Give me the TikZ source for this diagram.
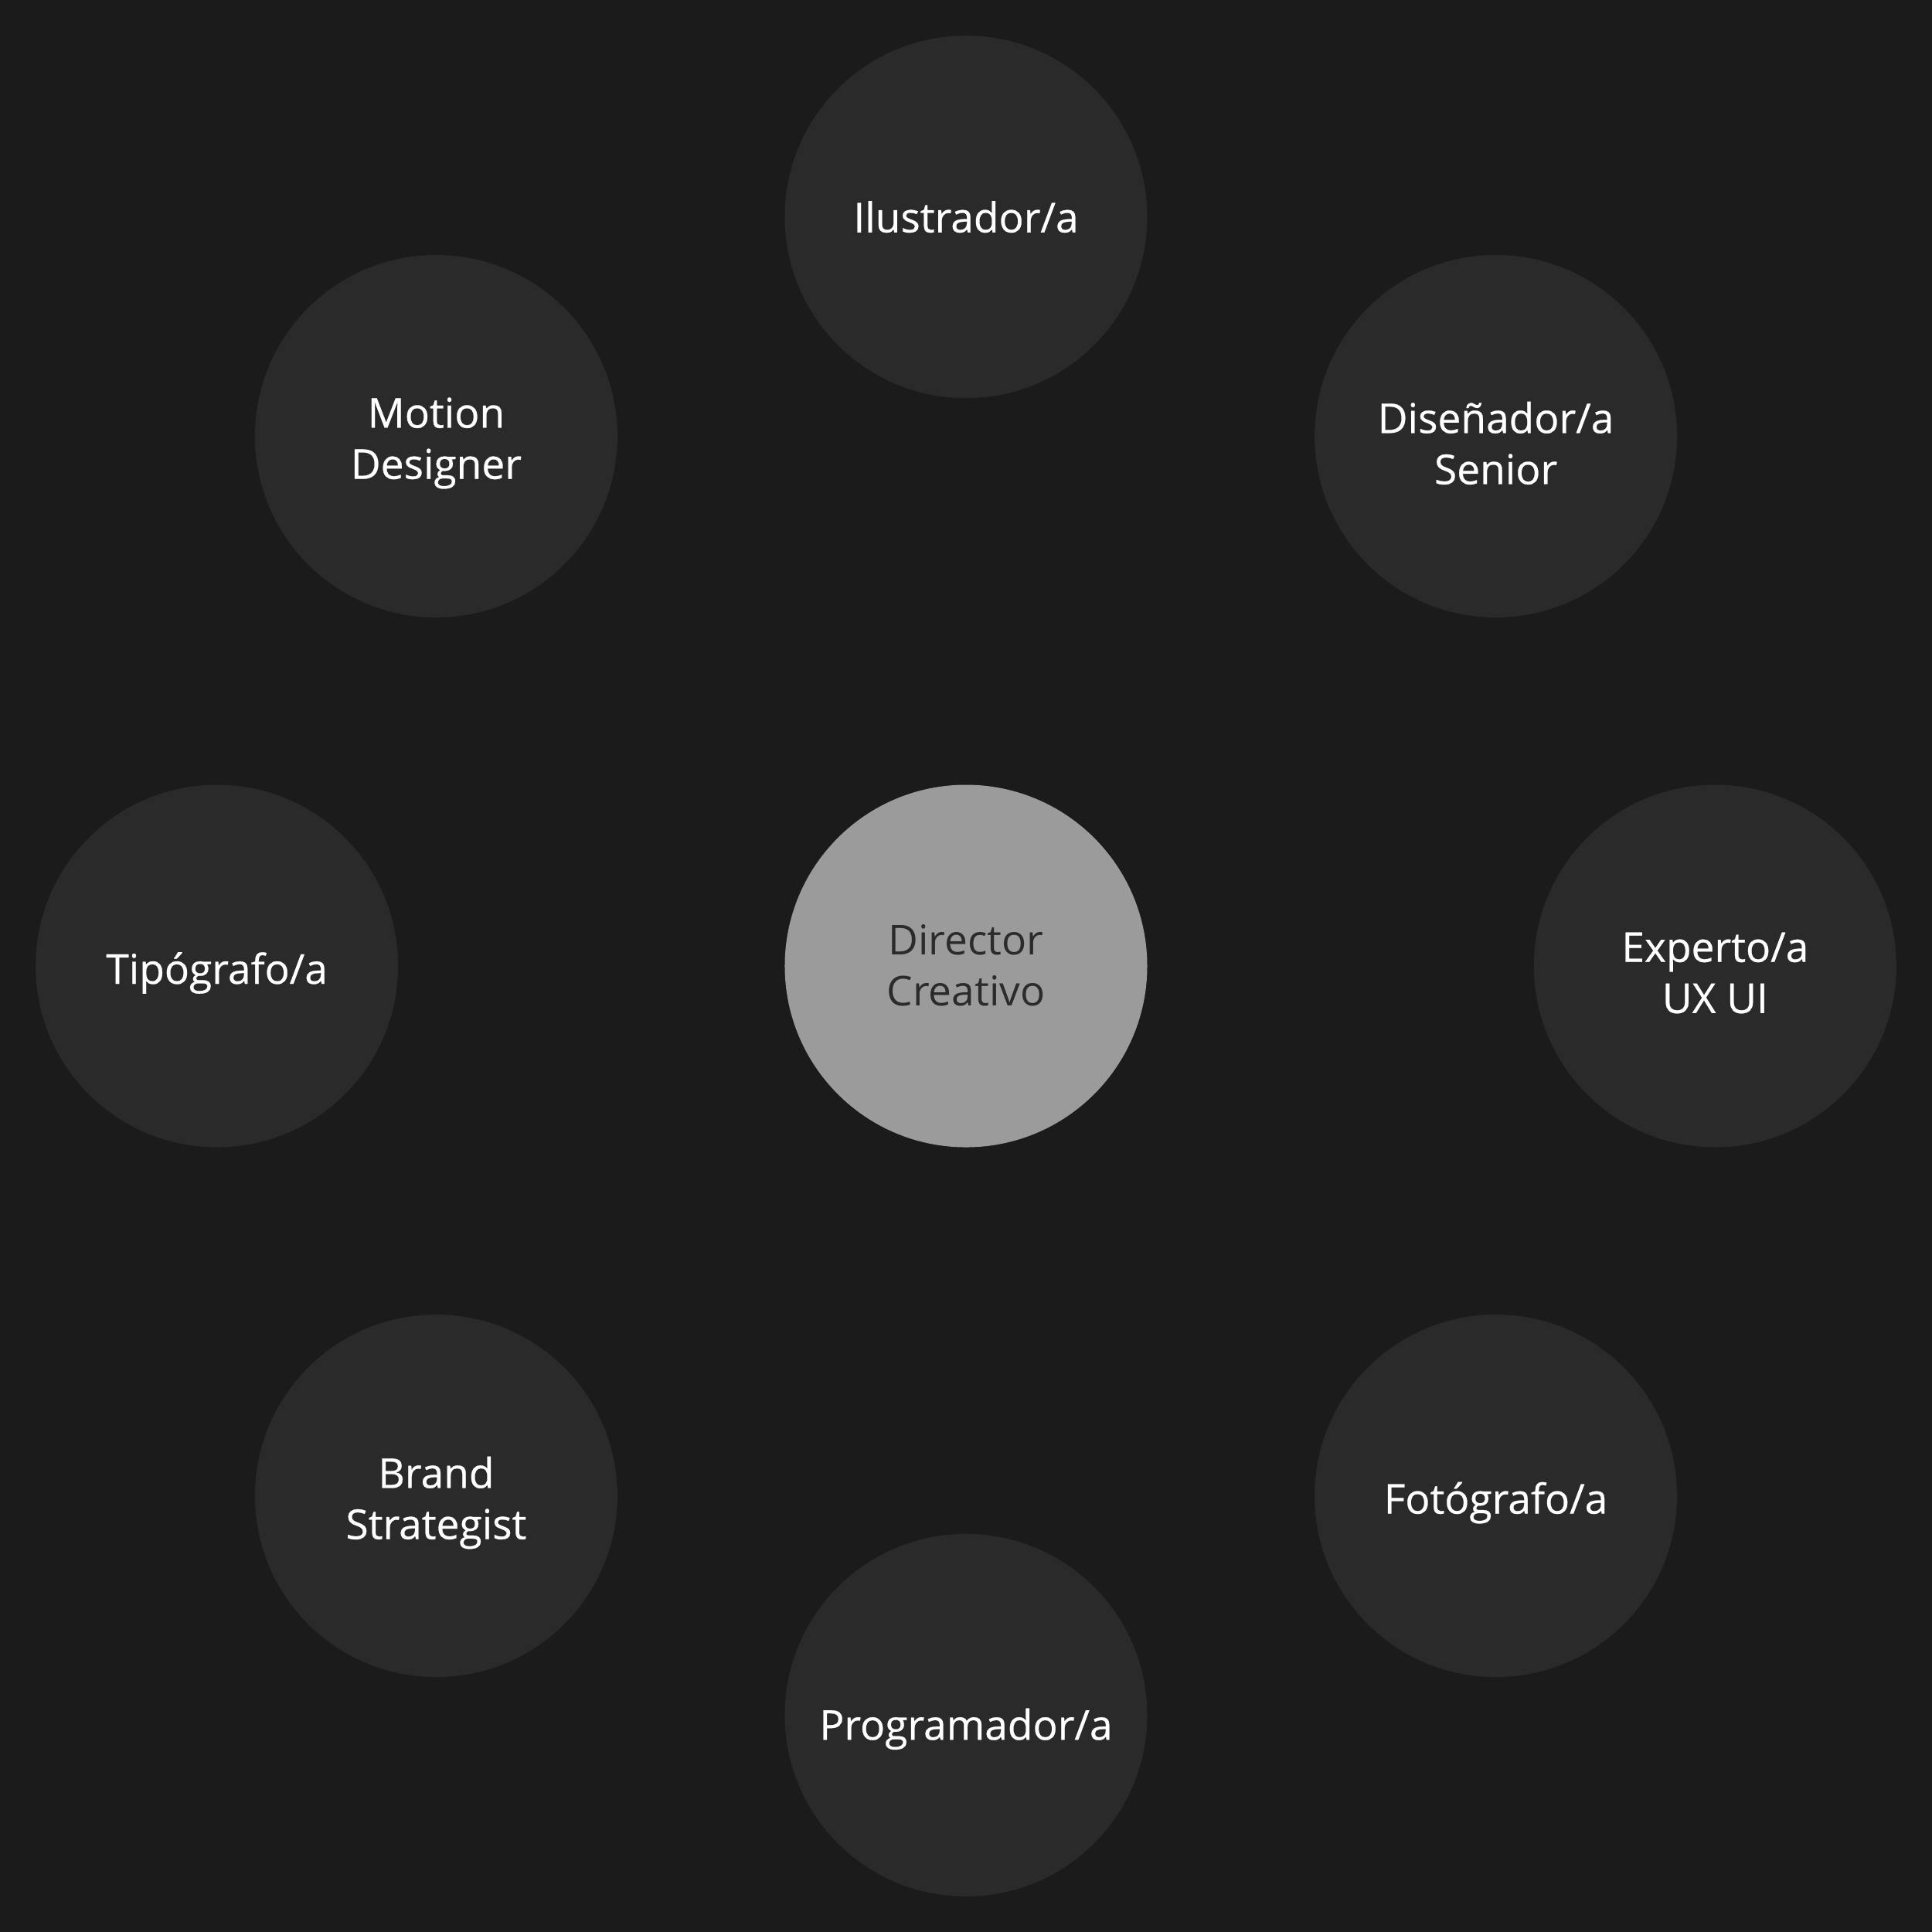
\documentclass[tikz,border=0pt]{standalone}
\usepackage{fontspec}
\setmainfont{Open Sans}
\newfontfamily\medfont{Open Sans}[FakeBold=0.5]
\definecolor{bg}{HTML}{1B1B1B}
\definecolor{disc}{HTML}{2A2A2A}
\definecolor{core}{HTML}{9B9B9B}
\definecolor{coretext}{HTML}{2B2B2B}
\begin{document}
\begin{tikzpicture}[x=0.01cm,y=-0.01cm,
  role/.style={circle,fill=disc,draw=none,minimum size=2.94cm,inner sep=0pt},
  corerole/.style={role,fill=core},
  roletext/.style={text=white,align=center,yshift=-1.6pt,
    font=\medfont\fontsize{9.5pt}{11.8pt}\selectfont},
  coretext/.style={roletext,yshift=1.8pt,text=coretext,font=\rmfamily\fontsize{9.5pt}{11.8pt}\selectfont}]
\fill[bg] (0,0) rectangle (1568,1568);
\useasboundingbox (0,0) rectangle (1568,1568);
\node[corerole] (dc) at (784,784) {};
\node[role] (il) at (784,176) {};
\node[role] (ds) at (1214,354) {};
\node[role] (ux) at (1392,784) {};
\node[role] (fo) at (1214,1214) {};
\node[role] (pr) at (784,1392) {};
\node[role] (bs) at (354,1214) {};
\node[role] (ti) at (176,784) {};
\node[role] (md) at (354,354) {};
\node[coretext] (dct) at (dc) {Director\\Creativo};
\node[roletext,yshift=1.6pt] (ilt) at (il) {Ilustrador/a};
\node[roletext] (dst) at (ds) {Diseñador/a\\Senior};
\node[roletext] (uxt) at (ux) {Experto/a\\UX UI};
\node[roletext] (fot) at (fo) {Fotógrafo/a};
\node[roletext,yshift=-1.6pt] (prt) at (pr) {Programador/a};
\node[roletext] (bst) at (bs) {Brand\\Strategist};
\node[roletext] (tit) at (ti) {Tipógrafo/a};
\node[roletext] (mdt) at (md) {Motion\\Designer};
\end{tikzpicture}
\end{document}
